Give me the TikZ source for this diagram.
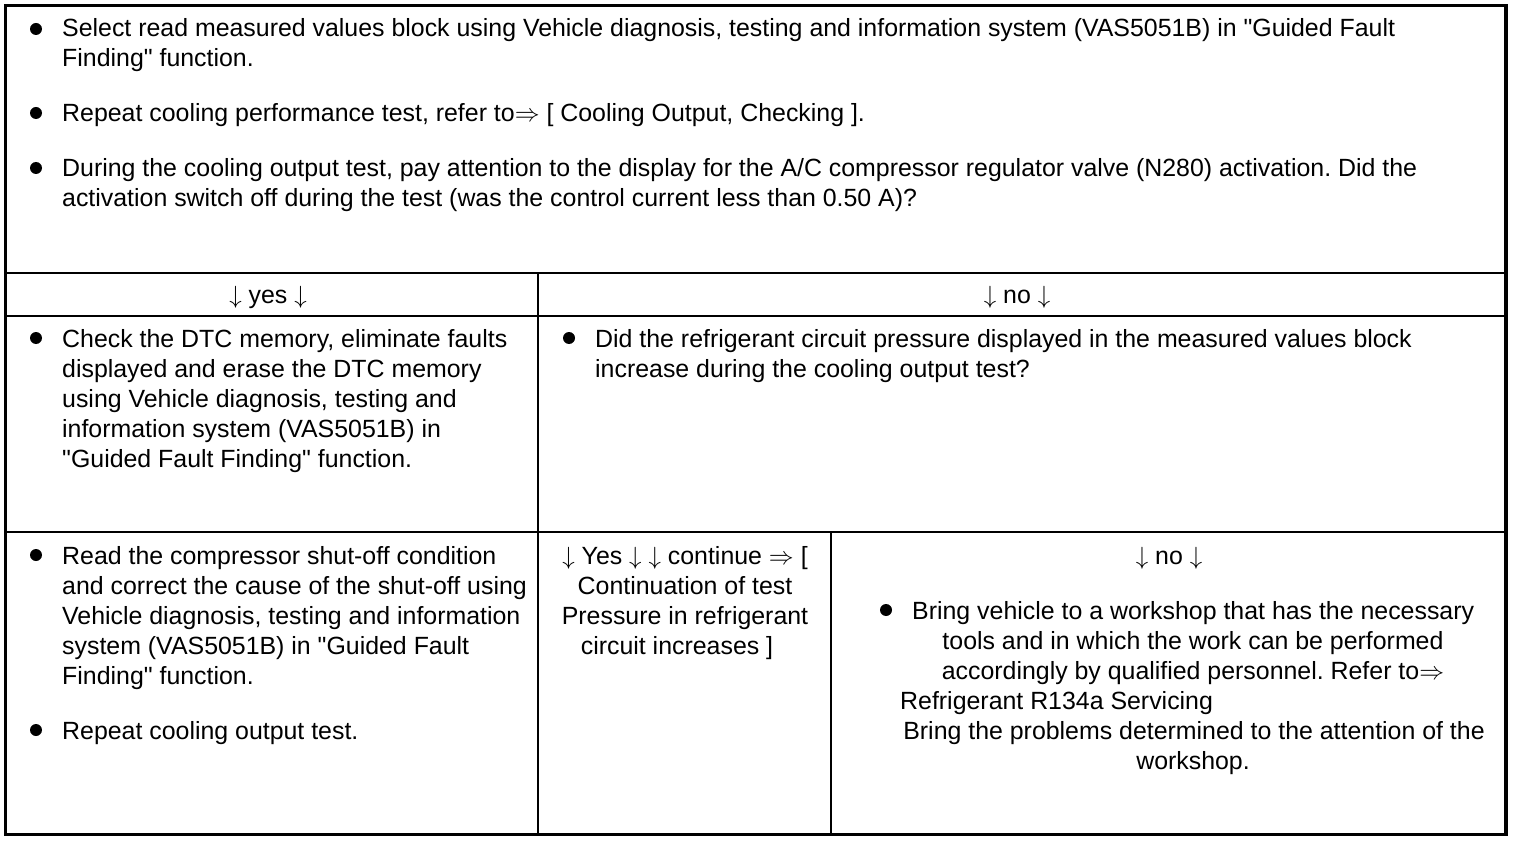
\documentclass[tikz,border=0pt]{standalone}
\usepackage{fontspec}
\setmainfont{Liberation Sans}
\frenchspacing
\newcommand{\tf}{\fontsize{24.9}{30}\selectfont}
\newcommand{\q}{\textquotedbl}
\tikzset{
  txt/.style={anchor=base west, inner sep=0pt, font=\tf},
  ctr/.style={anchor=base, inner sep=0pt, font=\tf},
  bul/.style={circle, fill=black, inner sep=0pt, minimum size=12pt},
  frame/.style={line width=3.5pt},
  rule/.style={line width=2pt},
  vrule/.style={line width=1.5pt}
}
\begin{document}
\begin{tikzpicture}[x=1pt,y=-1pt]
\useasboundingbox (0,0) rectangle (1520,842);
% grid coordinates
\coordinate (tl) at (5.5,5.5);
\coordinate (br) at (1506,834.5);
\coordinate (h1l) at (5.5,273); \coordinate (h1r) at (1506,273);
\coordinate (h2l) at (5.5,316); \coordinate (h2r) at (1506,316);
\coordinate (h3l) at (5.5,532); \coordinate (h3r) at (1506,532);
\coordinate (v1t) at (538,273); \coordinate (v1b) at (538,834.5);
\coordinate (v2t) at (831,532); \coordinate (v2b) at (831,834.5);
\draw[rule] (h1l) -- (h1r);
\draw[rule] (h2l) -- (h2r);
\draw[rule] (h3l) -- (h3r);
\draw[vrule] (v1t) -- (v1b);
\draw[vrule] (v2t) -- (v2b);
\draw[frame] (tl) rectangle (br);
% top cell
\node[bul] (b1) at (36,29) {};
\node[txt] (t1a) at (62,37) {Select read measured values block using Vehicle diagnosis, testing and information system (VAS5051B) in \q Guided Fault};
\node[txt] (t1b) at (62,67) {Finding\q{} function.};
\node[bul] (b2) at (36,113) {};
\node[txt] (t2a) at (62,122) {Repeat cooling performance test, refer to$\Rightarrow$ [ Cooling Output, Checking ].};
\node[bul] (b3) at (36,168) {};
\node[txt] (t3a) at (62,177) {During the cooling output test, pay attention to the display for the A/C compressor regulator valve (N280) activation. Did the};
\node[txt] (t3b) at (62,207) {activation switch off during the test (was the control current less than 0.50 A)?};
% yes / no row
\node[ctr] (yes) at (268,303) {$\downarrow$ yes $\downarrow$};
\node[ctr] (no) at (1017,303) {$\downarrow$ no $\downarrow$};
% middle left
\node[bul] (b4) at (36,338) {};
\node[txt] (m1) at (62,347) {Check the DTC memory, eliminate faults};
\node[txt] (m2) at (62,377) {displayed and erase the DTC memory};
\node[txt] (m3) at (62,407) {using Vehicle diagnosis, testing and};
\node[txt] (m4) at (62,437) {information system (VAS5051B) in};
\node[txt] (m5) at (62,467) {\q Guided Fault Finding\q{} function.};
% middle right
\node[bul] (b5) at (569,338) {};
\node[txt] (r1) at (595,347) {Did the refrigerant circuit pressure displayed in the measured values block};
\node[txt] (r2) at (595,377) {increase during the cooling output test?};
% bottom left
\node[bul] (b6) at (36,555) {};
\node[txt] (l1) at (62,564) {Read the compressor shut-off condition};
\node[txt] (l2) at (62,594) {and correct the cause of the shut-off using};
\node[txt] (l3) at (62,624) {Vehicle diagnosis, testing and information};
\node[txt] (l4) at (62,654) {system (VAS5051B) in \q Guided Fault};
\node[txt] (l5) at (62,684) {Finding\q{} function.};
\node[bul] (b7) at (36,730) {};
\node[txt] (l6) at (62,739) {Repeat cooling output test.};
% bottom middle
\node[ctr] (c1) at (685,564) {$\downarrow$ Yes $\downarrow$ $\downarrow$ continue $\Rightarrow$ [};
\node[ctr] (c2) at (685,594) {Continuation of test};
\node[ctr] (c3) at (685,624) {Pressure in refrigerant};
\node[ctr] (c4) at (677,654) {circuit increases ]};
% bottom right
\node[ctr] (no2) at (1169,564) {$\downarrow$ no $\downarrow$};
\node[bul] (b8) at (886,610) {};
\node[txt] (w1) at (912,619) {Bring vehicle to a workshop that has the necessary};
\node[ctr] (w2) at (1193,649) {tools and in which the work can be performed};
\node[ctr] (w3) at (1193,679) {accordingly by qualified personnel. Refer to$\Rightarrow$};
\node[txt] (w4) at (900,709) {Refrigerant R134a Servicing};
\node[ctr] (w5) at (1194,739) {Bring the problems determined to the attention of the};
\node[ctr] (w6) at (1193,769) {workshop.};
\end{tikzpicture}
\end{document}
